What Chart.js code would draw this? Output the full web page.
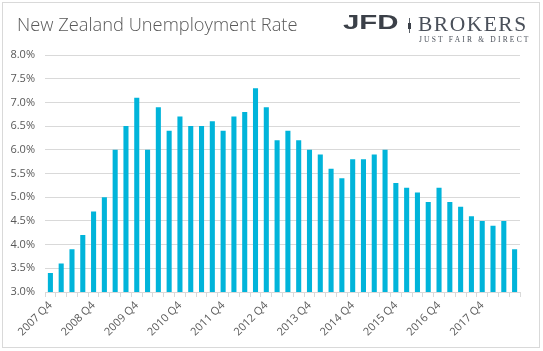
<!DOCTYPE html>
<html>
<head>
<meta charset="utf-8">
<script src="https://cdn.jsdelivr.net/npm/chart.js@4/dist/chart.umd.min.js"></script>
<style>
    html, body { margin: 0; padding: 0; background: #fff; }
    #wrap { position: relative; width: 543px; height: 351px; overflow: hidden; }
    #frame { position: absolute; left: 2px; top: 2px; width: 536px; height: 344px; border: 1px solid #d9d9d9; }
    #title { position: absolute; left: 17px; top: 11px; font-family: "Open Sans", sans-serif; font-weight: 300; font-size: 18.3px; color: #595959; white-space: nowrap; }
    #logo-jfd { position: absolute; left: 343px; top: 10px; font-family: "Liberation Sans", sans-serif; font-weight: bold; font-size: 21px; color: #3b4048; transform: scaleX(1.4); transform-origin: 0 0; }
    #logo-sep { position: absolute; left: 409px; top: 18px; width: 1px; height: 15px; background: #5a6068; }
    #logo-dot { position: absolute; left: 408px; top: 23px; width: 3px; height: 6px; background: #3b4048; }
    #logo-brokers { position: absolute; left: 418px; top: 12px; font-family: "Liberation Serif", serif; font-size: 21.5px; color: #4a505a; letter-spacing: 1.5px; }
    #logo-tag { position: absolute; left: 419px; top: 35px; font-family: "Liberation Serif", serif; font-size: 7.5px; color: #4a505a; letter-spacing: 2.2px; white-space: nowrap; }
    canvas { position: absolute; left: 0; top: 0; }
</style>
</head>
<body>
<div id="wrap">
    <div id="frame"></div>
    <canvas id="unemploymentChart" width="543" height="351"></canvas>
    <div id="title">New Zealand Unemployment Rate</div>
    <div id="logo-jfd">JFD</div>
    <div id="logo-sep"></div>
    <div id="logo-dot"></div>
    <div id="logo-brokers">BROKERS</div>
    <div id="logo-tag">JUST FAIR &amp; DIRECT</div>
</div>
<script>
const quarters = [
    '2007 Q4',
    '2008 Q1', '2008 Q2', '2008 Q3', '2008 Q4',
    '2009 Q1', '2009 Q2', '2009 Q3', '2009 Q4',
    '2010 Q1', '2010 Q2', '2010 Q3', '2010 Q4',
    '2011 Q1', '2011 Q2', '2011 Q3', '2011 Q4',
    '2012 Q1', '2012 Q2', '2012 Q3', '2012 Q4',
    '2013 Q1', '2013 Q2', '2013 Q3', '2013 Q4',
    '2014 Q1', '2014 Q2', '2014 Q3', '2014 Q4',
    '2015 Q1', '2015 Q2', '2015 Q3', '2015 Q4',
    '2016 Q1', '2016 Q2', '2016 Q3', '2016 Q4',
    '2017 Q1', '2017 Q2', '2017 Q3', '2017 Q4',
    '2018 Q1', '2018 Q2', '2018 Q3'
];

const unemploymentRate = [
    3.4,
    3.6, 3.9, 4.2, 4.7,
    5.0, 6.0, 6.5, 7.1,
    6.0, 6.9, 6.4, 6.7,
    6.5, 6.5, 6.6, 6.4,
    6.7, 6.8, 7.3, 6.9,
    6.2, 6.4, 6.2, 6.0,
    5.9, 5.6, 5.4, 5.8,
    5.8, 5.9, 6.0, 5.3,
    5.2, 5.1, 4.9, 5.2,
    4.9, 4.8, 4.6, 4.5,
    4.4, 4.5, 3.9
];

const yMin = 3.0;
const yMax = 8.0;
const yStep = 0.5;
const labelEvery = 4;

const ctx = document.getElementById('unemploymentChart').getContext('2d');
new Chart(ctx, {
    type: 'bar',
    data: {
        labels: quarters,
        datasets: [{
            label: 'Unemployment Rate',
            data: unemploymentRate,
            backgroundColor: '#00b4da',
            borderWidth: 0,
            barPercentage: 0.47,
            categoryPercentage: 1.0
        }]
    },
    options: {
        responsive: false,
        animation: false,
        layout: {
            padding: { top: 55, right: 23, bottom: 0, left: 0 }
        },
        plugins: {
            legend: { display: false },
            tooltip: { enabled: false }
        },
        scales: {
            x: {
                grid: {
                    display: true,
                    offset: true,
                    drawOnChartArea: false,
                    drawTicks: true,
                    tickLength: 5,
                    color: '#d9d9d9'
                },
                border: { display: true, color: '#d9d9d9' },
                ticks: {
                    autoSkip: false,
                    maxRotation: 45,
                    minRotation: 45,
                    padding: 2,
                    color: '#595959',
                    font: { family: 'Open Sans', size: 11 },
                    callback: function (value, index) {
                        return index % labelEvery === 0 ? quarters[index] : '';
                    }
                },
                afterFit: function (scale) { scale.height = 59; }
            },
            y: {
                min: yMin,
                max: yMax,
                grid: {
                    color: '#d9d9d9',
                    drawTicks: false
                },
                border: { display: false },
                ticks: {
                    stepSize: yStep,
                    padding: 10,
                    color: '#595959',
                    font: { family: 'Open Sans', size: 11 },
                    callback: function (value) { return value.toFixed(1) + '%'; }
                },
                afterFit: function (scale) { scale.width = 45; }
            }
        }
    }
});
</script>
</body>
</html>
